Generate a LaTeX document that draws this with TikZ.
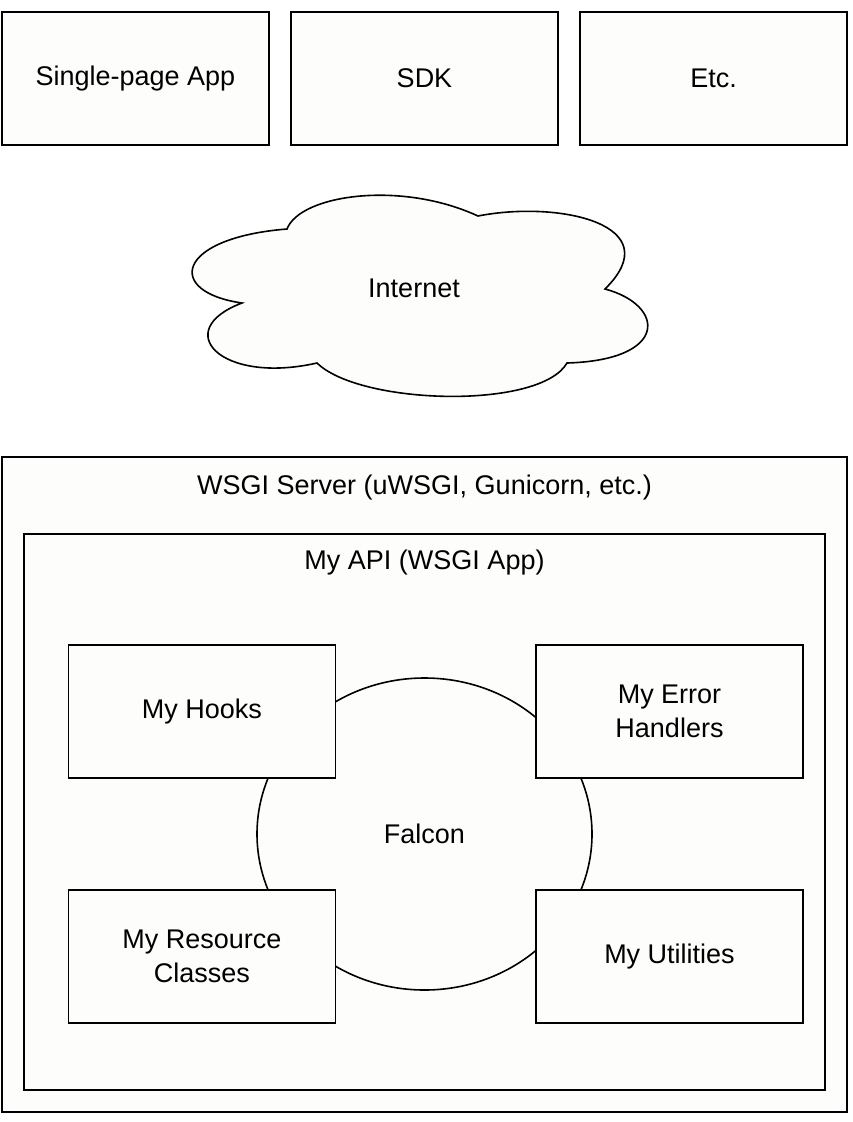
\documentclass[tikz,border=0pt]{standalone}
\usepackage{fontspec}
\setmainfont{Liberation Sans}
\usepackage{xcolor}
\usetikzlibrary{shapes.geometric}
\definecolor{paper}{RGB}{253,253,251}

\begin{document}
\begin{tikzpicture}[x=1pt,y=-1pt,line width=1.8pt,font=\fontsize{27}{34}\selectfont]
	\tikzset{plain box/.style={draw,fill=paper,minimum width=267pt,minimum height=133pt,align=center}}
	\useasboundingbox[fill=white] (0,0) rectangle (852,1122);

	% clients
	\node[plain box] (spa) at (135.5,78.5) {Single-page App};
	\node[plain box] (sdk) at (424.5,78.5) {SDK};
	\node[plain box] (etc) at (713.5,78.5) {Etc.};

	% cloud
	\draw[fill=paper,line width=1.6pt] (287,229) .. controls (300,195) and (400,180) .. (478,216)
		.. controls (560,200) and (670,225) .. (605,289)
		.. controls (665,305) and (670,360) .. (567,363)
		.. controls (540,410) and (360,405) .. (317,363)
		.. controls (220,385) and (170,330) .. (242,303)
		.. controls (165,292) and (175,238) .. cycle;
	\node (inet) at (414,288) {Internet};

	% server and app
	\draw[fill=paper] (2,457) rectangle (847,1112);
	\node (server) at (424.5,488) {WSGI Server (uWSGI, Gunicorn, etc.)};
	\draw[fill=paper] (24,534) rectangle (825,1090);
	\node (api) at (424.5,563) {My API (WSGI App)};

	\node[draw,ellipse,fill=paper,line width=1.6pt,minimum width=335pt,minimum height=312pt] (falcon) at (424.5,834) {Falcon};

	\node[plain box] (hooks) at (202,711.5) {My Hooks};
	\node[plain box] (errors) at (669.5,711.5) {My Error\\ Handlers};
	\node[plain box] (res) at (202,956.5) {My Resource\\ Classes};
	\node[plain box] (utils) at (669.5,956.5) {My Utilities};
\end{tikzpicture}
\end{document}
